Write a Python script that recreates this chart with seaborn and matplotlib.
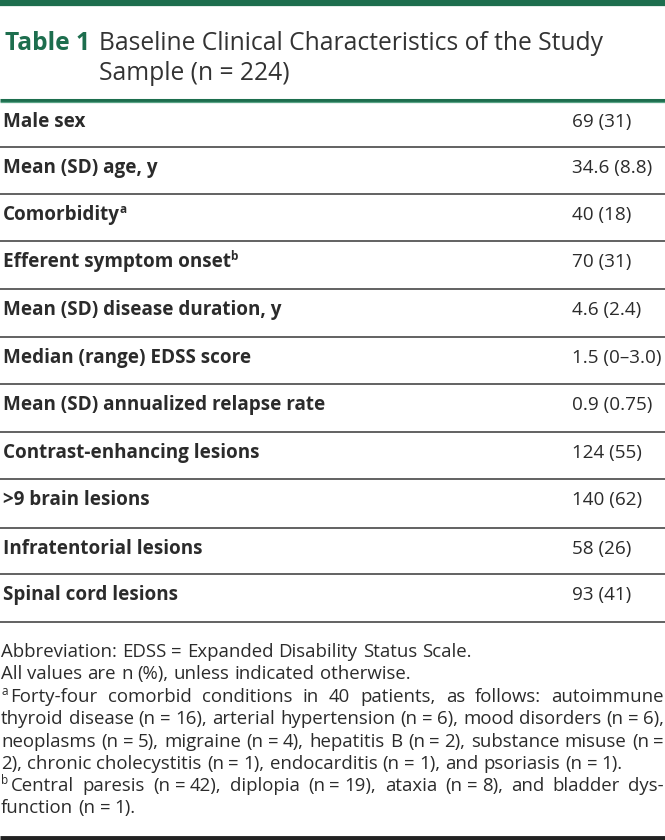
import matplotlib
matplotlib.use('Agg')
import matplotlib.pyplot as plt
import seaborn as sns

sns.set_theme(style='white')
plt.rcParams['font.family'] = ['Open Sans', 'DejaVu Sans']

# table content
title_tag = 'Table 1'
title_lines = ['Baseline Clinical Characteristics of the Study', 'Sample (n = 224)']
labels = ['Male sex', 'Mean (SD) age, y', 'Comorbidity', 'Efferent symptom onset',
          'Mean (SD) disease duration, y', 'Median (range) EDSS score',
          'Mean (SD) annualized relapse rate', 'Contrast-enhancing lesions',
          '>9 brain lesions', 'Infratentorial lesions', 'Spinal cord lesions']
label_sups = ['', '', 'a', 'b', '', '', '', '', '', '', '']
values = ['69 (31)', '34.6 (8.8)', '40 (18)', '70 (31)', '4.6 (2.4)', '1.5 (0\u20133.0)',
          '0.9 (0.75)', '124 (55)', '140 (62)', '58 (26)', '93 (41)']

# footnotes: (superscript, text, justified)
notes = [
    ('', 'Abbreviation: EDSS = Expanded Disability Status Scale.', False),
    ('', 'All values are n (%), unless indicated otherwise.', False),
    ('a', 'Forty-four comorbid conditions in 40 patients, as follows: autoimmune', True),
    ('', 'thyroid disease (n = 16), arterial hypertension (n = 6), mood disorders (n = 6),', True),
    ('', 'neoplasms (n = 5), migraine (n = 4), hepatitis B (n = 2), substance misuse (n =', True),
    ('', '2), chronic cholecystitis (n = 1), endocarditis (n = 1), and psoriasis (n = 1).', False),
    ('b', 'Central paresis (n = 42), diplopia (n = 19), ataxia (n = 8), and bladder dys-', True),
    ('', 'function (n = 1).', False),
]

green = '#1d6e4e'
text_col = '#2b2b2b'
W, H = 665, 840

fig = plt.figure(figsize=(6.65, 8.4), dpi=100)
ax = fig.add_axes([0, 0, 1, 1])
ax.set_xlim(0, W)
ax.set_ylim(H, 0)
ax.set_axis_off()
renderer = fig.canvas.get_renderer()


def width_of(t):
    return t.get_window_extent(renderer=renderer).width


# frame rules
ax.hlines(2.5, 0, W, color=green, lw=4.5)
ax.hlines(100.3, 0, W, color=green, lw=2.2)
ax.hlines(102.3, 0, W, color='#5aa486', lw=0.9)
ax.hlines(838, 0, W, color='#222222', lw=3.5)

# title
ax.text(5, 50, title_tag, color=green, fontsize=17.7, fontweight='bold', va='baseline')
for i, line in enumerate(title_lines):
    ax.text(99, 50 + 30 * i, line, color='#333333', fontsize=17.7, va='baseline')

# rows
row_lines = [147, 194, 241, 289, 337, 384, 432, 479, 528, 574, 622]
body_fs = 13.6
top = 101
for lab, sup, val, bottom in zip(labels, label_sups, values, row_lines):
    base = top + 26
    t = ax.text(3, base, lab, fontsize=body_fs, fontweight='bold', color=text_col, va='baseline')
    if sup:
        ax.text(3 + width_of(t) - 0.8, base - 7, sup, fontsize=8.5, fontweight='bold',
                color=text_col, va='baseline')
    ax.text(572, base, val, fontsize=body_fs, color=text_col, va='baseline')
    ax.hlines(bottom, 0, W, color='#555555', lw=1.3)
    top = bottom

# footnotes, word by word so the justified lines reach the right edge
note_base = [657, 679, 702, 724, 747, 769, 791, 813]
fs = 13.4
em = fs * 100 / 72
space_w = 0.27 * em
thin_w = 0.24 * em
for (sup, line, just), y in zip(notes, note_base):
    x0 = 1
    if sup:
        s = ax.text(x0, y - 7, sup, fontsize=8.5, color=text_col, va='baseline')
        x0 += width_of(s) + 3
    words = line.split(' ')
    arts = [ax.text(0, y, w, fontsize=fs, color=text_col, va='baseline') for w in words]
    widths = [width_of(a) for a in arts]
    thin = [(words[i] == '(n') or (words[i] == '=' and i > 0 and words[i - 1] == '(n')
            for i in range(len(words) - 1)]
    n_thin = sum(thin)
    n_norm = len(thin) - n_thin
    gap = space_w
    if just and n_norm:
        gap = (W - 1 - x0 - sum(widths) - n_thin * thin_w) / n_norm
    x = x0
    for i, (a, wd) in enumerate(zip(arts, widths)):
        a.set_x(x)
        if i < len(thin):
            x += wd + (thin_w if thin[i] else gap)

fig.savefig('out.png', dpi=100)
